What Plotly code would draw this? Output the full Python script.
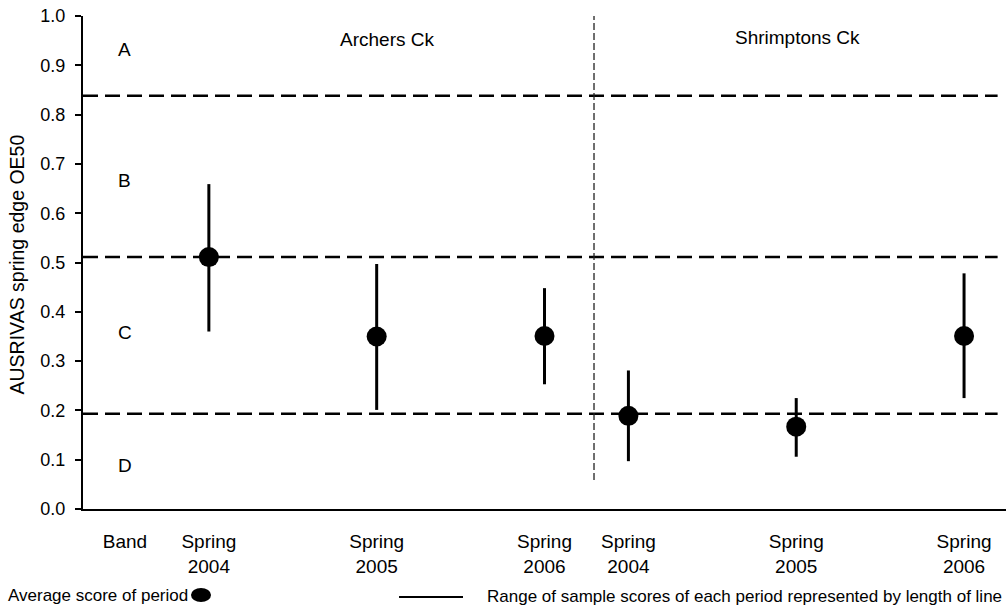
import plotly.graph_objects as go

# Category slots along the x axis (Band column, then each creek's spring surveys)
slot_pos = [0, 1, 3, 5, 6, 8, 10]
slot_text = ["Band", "Spring<br>2004", "Spring<br>2005", "Spring<br>2006",
             "Spring<br>2004", "Spring<br>2005", "Spring<br>2006"]

# Survey periods: positions, average OE50 scores and sample ranges
period_x = [1, 3, 5, 6, 8, 10]
avg_score = [0.511, 0.350, 0.351, 0.189, 0.167, 0.351]
range_low = [0.360, 0.201, 0.253, 0.097, 0.106, 0.225]
range_high = [0.659, 0.497, 0.448, 0.281, 0.225, 0.478]

# AUSRIVAS band boundaries and band labels
band_edges = [0.838, 0.511, 0.193]
band_names = ["A", "B", "C", "D"]
band_label_y = [0.933, 0.667, 0.359, 0.089]

# Creek names and the separator between the two sites
creek_names = ["Archers Ck", "Shrimptons Ck"]
creek_x = [3.12, 8.02]
creek_y = [0.953, 0.957]
site_split_x = 5.59

FONT = "Liberation Sans, Arial, sans-serif"

fig = go.Figure()

fig.add_trace(go.Scatter(
    x=period_x,
    y=avg_score,
    mode="markers",
    marker=dict(size=20, color="black"),
    error_y=dict(
        type="data",
        symmetric=False,
        array=[h - m for h, m in zip(range_high, avg_score)],
        arrayminus=[m - l for m, l in zip(avg_score, range_low)],
        width=0,
        thickness=3,
        color="black",
    ),
    showlegend=False,
    cliponaxis=False,
))

shapes = []
for yv in band_edges:
    shapes.append(dict(
        type="line", xref="x", yref="y",
        x0=-0.5, x1=10.4, y0=yv, y1=yv,
        line=dict(color="black", width=2.5, dash="15px,7px"),
        layer="below",
    ))

shapes.append(dict(
    type="line", xref="x", yref="y",
    x0=site_split_x, x1=site_split_x, y0=0.059, y1=1.008,
    line=dict(color="#222222", width=1.3, dash="7px,3px"),
    layer="below",
))

# Legend samples below the axis
shapes.append(dict(
    type="circle", xref="paper", yref="paper",
    x0=0.117, x1=0.1387, y0=-0.160, y1=-0.1886,
    fillcolor="black", line=dict(color="black", width=0),
))
shapes.append(dict(
    type="line", xref="paper", yref="paper",
    x0=0.3424, x1=0.4117, y0=-0.1785, y1=-0.1785,
    line=dict(color="black", width=2),
))

annotations = []
for name, yv in zip(band_names, band_label_y):
    annotations.append(dict(
        x=0, y=yv, xref="x", yref="y", text=name, showarrow=False,
        font=dict(family=FONT, size=19, color="black"),
    ))
for name, xv, yv in zip(creek_names, creek_x, creek_y):
    annotations.append(dict(
        x=xv, y=yv, xref="x", yref="y", text=name, showarrow=False,
        font=dict(family=FONT, size=19, color="black"),
    ))

annotations.append(dict(
    x=-0.0715, y=0.496, xref="paper", yref="paper",
    xanchor="center", yanchor="middle",
    text="AUSRIVAS spring edge OE50", textangle=-90, showarrow=False,
    font=dict(family=FONT, size=19.5, color="black"),
))
annotations.append(dict(
    x=-0.0834, y=-0.1745, xref="paper", yref="paper",
    xanchor="left", yanchor="middle",
    text="Average score of period", showarrow=False,
    font=dict(family=FONT, size=17, color="black"),
))
annotations.append(dict(
    x=0.4355, y=-0.1765, xref="paper", yref="paper",
    xanchor="left", yanchor="middle",
    text="Range of sample scores of each period represented by length of line",
    showarrow=False,
    font=dict(family=FONT, size=17, color="black"),
))

fig.update_layout(
    width=1008,
    height=607,
    margin=dict(l=83, r=2, t=16, b=98),
    paper_bgcolor="white",
    plot_bgcolor="white",
    font=dict(family=FONT, size=18, color="black"),
    shapes=shapes,
    annotations=annotations,
    xaxis=dict(
        range=[-0.5, 10.5],
        tickmode="array",
        tickvals=slot_pos,
        ticktext=slot_text,
        ticks="",
        ticklabelstandoff=14,
        showgrid=False,
        zeroline=False,
        showline=True,
        linecolor="black",
        linewidth=2,
        tickfont=dict(family=FONT, size=19),
    ),
    yaxis=dict(
        range=[0, 1.0],
        dtick=0.1,
        tick0=0,
        tickformat=".1f",
        ticks="outside",
        ticklen=6,
        tickwidth=2,
        tickcolor="black",
        ticklabelstandoff=6,
        showgrid=False,
        zeroline=False,
        showline=True,
        linecolor="black",
        linewidth=2,
        tickfont=dict(family=FONT, size=18),
    ),
)

fig.write_html("out.html")
